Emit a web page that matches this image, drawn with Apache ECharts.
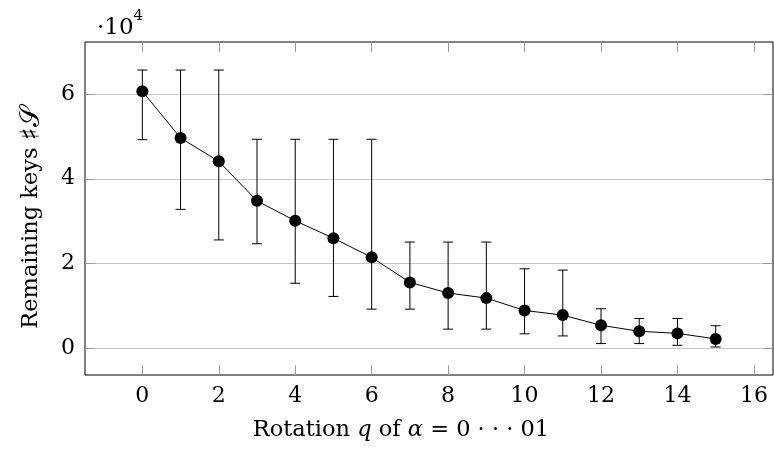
<!DOCTYPE html>
<html>
<head>
<meta charset="utf-8">
<script src="https://cdn.jsdelivr.net/npm/echarts@6/dist/echarts.min.js"></script>
<style>
  html, body { margin: 0; padding: 0; background: #fff; }
  #chart { width: 774px; height: 458px; }
</style>
</head>
<body>
<div id="chart"></div>
<script>
  // 数据
  const rotations = [0, 1, 2, 3, 4, 5, 6, 7, 8, 9, 10, 11, 12, 13, 14, 15];
  const meanKeys = [60600, 49600, 44100, 34800, 30100, 26000, 21500, 15600, 13100, 11900, 9000, 7900, 5500, 4100, 3600, 2300];
  const lowerKeys = [49200, 32800, 25600, 24700, 15400, 12300, 9300, 9300, 4600, 4600, 3500, 3000, 1200, 1200, 800, 400];
  const upperKeys = [65600, 65600, 65600, 49300, 49300, 49300, 49300, 25100, 25100, 25100, 18800, 18500, 9400, 7100, 7100, 5400];
  const xTicks = [0, 2, 4, 6, 8, 10, 12, 14, 16];
  const yTicks = [0, 20000, 40000, 60000];

  const font = "DejaVu Serif";
  let chart = echarts.init(document.getElementById("chart"));

  const tickStyle = { show: true, inside: true, length: 10, lineStyle: { color: "#9a9a9a", width: 1 } };

  let option = {
    animation: false,
    textStyle: { fontFamily: font, color: "#000" },
    grid: {
      left: 85, top: 42, right: 1, bottom: 83,
      show: true, borderColor: "#000", borderWidth: 1, backgroundColor: "transparent"
    },
    title: {
      text: "{a|·10}{b|4}",
      left: 92, top: 4,
      textStyle: {
        rich: {
          a: { fontFamily: font, fontSize: 23, fontWeight: "normal", color: "#000", padding: [8, 0, 0, 0] },
          b: { fontFamily: font, fontSize: 15, fontWeight: "normal", color: "#000", verticalAlign: "top" }
        }
      }
    },
    xAxis: [
      {
        type: "value", min: -1.5, max: 16.5, position: "bottom",
        axisLine: { show: false, onZero: false },
        axisTick: Object.assign({ customValues: xTicks }, tickStyle),
        axisLabel: { customValues: xTicks, fontFamily: font, fontSize: 22, color: "#000", margin: 10 },
        splitLine: { show: false },
        name: "Rotation {i|q} of {i|α} = 0 · · · 01",
        nameLocation: "middle",
        nameGap: 44,
        nameTextStyle: {
          fontFamily: font, fontSize: 22.5, color: "#000",
          padding: [0, 56, 0, 0],
          rich: { i: { fontFamily: font, fontSize: 22.5, fontStyle: "italic", color: "#000" } }
        }
      },
      {
        type: "value", min: -1.5, max: 16.5, position: "top",
        axisLine: { show: false, onZero: false },
        axisTick: Object.assign({ customValues: xTicks }, tickStyle),
        axisLabel: { show: false },
        splitLine: { show: false }
      }
    ],
    yAxis: [
      {
        type: "value", min: -6200, max: 72200, position: "left",
        axisLine: { show: false, onZero: false },
        axisTick: Object.assign({ customValues: yTicks }, tickStyle),
        axisLabel: {
          customValues: yTicks, fontFamily: font, fontSize: 22, color: "#000", margin: 10,
          formatter: v => String(v / 10000)
        },
        splitLine: { show: true, customValues: yTicks, lineStyle: { color: "#c8c8c8", width: 1 } },
        name: "Remaining keys {s|♯𝒮}",
        nameLocation: "middle",
        nameGap: 40,
        nameTextStyle: {
          fontFamily: font, fontSize: 22.5, color: "#000",
          padding: [0, 18, 0, 0],
          rich: { s: { fontFamily: font, fontSize: 27, color: "#000" } }
        }
      },
      {
        type: "value", min: -6200, max: 72200, position: "right",
        axisLine: { show: false, onZero: false },
        axisTick: Object.assign({ customValues: yTicks }, tickStyle),
        axisLabel: { show: false },
        splitLine: { show: false }
      }
    ],
    series: [
      {
        // 误差棒
        type: "custom",
        data: rotations.map((q, i) => [q, lowerKeys[i], upperKeys[i]]),
        renderItem: (params, api) => {
          const lo = api.coord([api.value(0), api.value(1)]);
          const hi = api.coord([api.value(0), api.value(2)]);
          const w = 5;
          const style = { stroke: "#000", lineWidth: 1 };
          return {
            type: "group",
            children: [
              { type: "line", shape: { x1: lo[0], y1: lo[1], x2: hi[0], y2: hi[1] }, style },
              { type: "line", shape: { x1: hi[0] - w, y1: hi[1], x2: hi[0] + w, y2: hi[1] }, style },
              { type: "line", shape: { x1: lo[0] - w, y1: lo[1], x2: lo[0] + w, y2: lo[1] }, style }
            ]
          };
        },
        z: 2
      },
      {
        type: "line",
        data: rotations.map((q, i) => [q, meanKeys[i]]),
        symbol: "circle",
        symbolSize: 12,
        itemStyle: { color: "#000" },
        lineStyle: { color: "#000", width: 1 },
        z: 3
      }
    ]
  };

  chart.setOption(option);
  window.addEventListener("resize", () => {
    chart.resize();
  });
</script>
</body>
</html>
